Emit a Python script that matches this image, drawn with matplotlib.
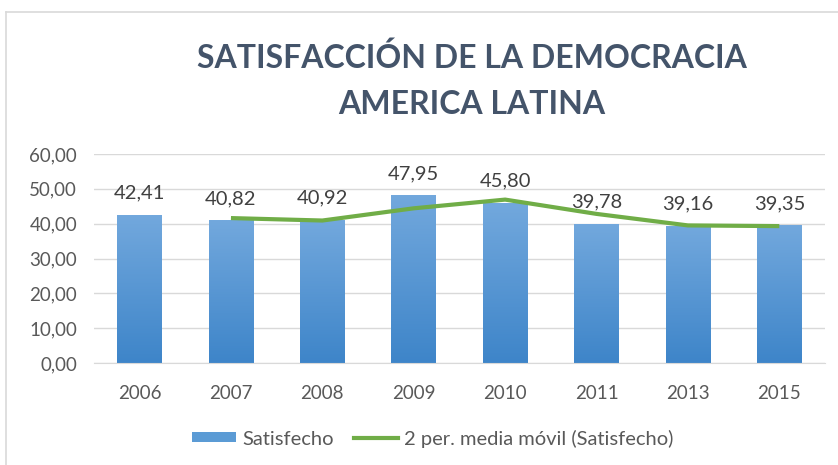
import numpy as np
import matplotlib.pyplot as plt
from matplotlib.lines import Line2D
from matplotlib.patches import Patch
from matplotlib.colors import LinearSegmentedColormap

years = ['2006', '2007', '2008', '2009', '2010', '2011', '2013', '2015']
satisfecho = [42.41, 40.82, 40.92, 47.95, 45.80, 39.78, 39.16, 39.35]
# 2 period moving average (starts at 2007)
media_movil = [41.6, 40.9, 44.4, 46.9, 42.8, 39.5, 39.3]

plt.rcParams['font.family'] = ['Lato', 'DejaVu Sans']

fig = plt.figure(figsize=(8.38, 4.65), dpi=100)
ax = fig.add_axes([0.112, 0.219, 0.8725, 0.45])

x = np.arange(len(years))
bars = ax.bar(x, satisfecho, width=0.49, color='none', zorder=2)

# gradient fill for each bar
grad = np.linspace(0, 1, 100).reshape(-1, 1)
cmap = LinearSegmentedColormap.from_list('b', ['#3E85C9', '#72A8DD'])
for b in bars:
    x0, y0 = b.get_x(), b.get_y()
    ax.imshow(grad, cmap=cmap, origin='lower', aspect='auto',
              extent=[x0, x0 + b.get_width(), y0, y0 + b.get_height()], zorder=2)

ax.plot(x[1:], media_movil, color='#70AD47', lw=3, zorder=3, solid_capstyle='butt')

for xi, v in zip(x, satisfecho):
    ax.annotate(f'{v:.2f}'.replace('.', ','), (xi, v), xytext=(0, 10),
                textcoords='offset points', ha='center', va='bottom',
                fontsize=14.5, color='#404040')

ax.set_xlim(-0.5, len(years) - 0.5)
ax.set_ylim(0, 60)
ax.set_yticks(np.arange(0, 61, 10))
ax.set_yticklabels([f'{v:.2f}'.replace('.', ',') for v in np.arange(0, 61, 10)])
ax.set_xticks(x)
ax.set_xticklabels(years)
ax.tick_params(axis='both', length=0, labelsize=13.5, labelcolor='#595959')
ax.tick_params(axis='x', pad=16)
ax.tick_params(axis='y', pad=12)
ax.grid(axis='y', color='#D9D9D9', lw=1, zorder=0)
ax.set_axisbelow(True)
for s in ax.spines.values():
    s.set_visible(False)
ax.spines['bottom'].set_visible(True)
ax.spines['bottom'].set_color('#D9D9D9')

fig.text(0.563, 0.826, 'SATISFACCIÓN DE LA DEMOCRACIA\nAMERICA LATINA', ha='center', va='center',
         fontsize=23, fontweight='bold', color='#44546A', linespacing=1.7)

handles = [Patch(facecolor='#5B9BD5', edgecolor='none'),
           Line2D([0], [0], color='#70AD47', lw=3)]
fig.legend(handles, ['Satisfecho', '2 per. media móvil (Satisfecho)'], loc='center',
           bbox_to_anchor=(0.516, 0.057), ncol=2, frameon=False, fontsize=14.5,
           labelcolor='#595959', handlelength=2.2, handleheight=0.4,
           handletextpad=0.3, columnspacing=1.0)

# chart area border
fig.add_artist(Line2D([0.007, 0.007], [0, 0.974], color='#D9D9D9', lw=1.2))
fig.add_artist(Line2D([0.007, 1], [0.974, 0.974], color='#D9D9D9', lw=1.2))

plt.savefig('out.png', dpi=100)
